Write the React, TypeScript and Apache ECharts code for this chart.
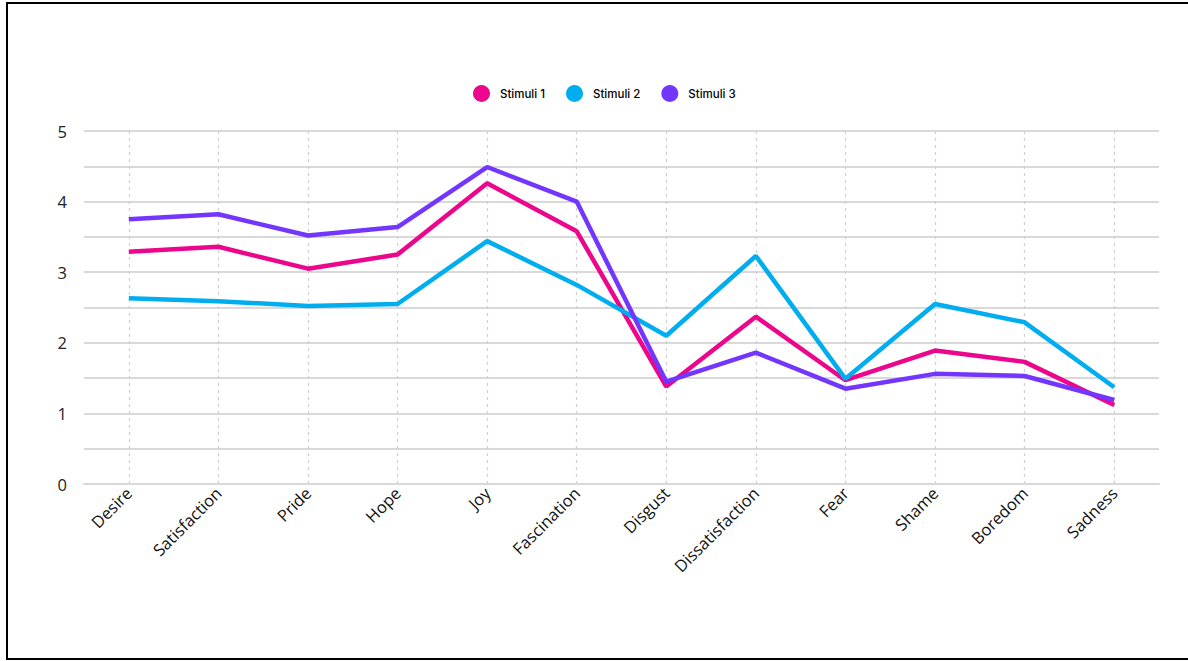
import React, { useEffect, useRef } from "react";
import * as echarts from "echarts";

const categories = [
  "Desire",
  "Satisfaction",
  "Pride",
  "Hope",
  "Joy",
  "Fascination",
  "Disgust",
  "Dissatisfaction",
  "Fear",
  "Shame",
  "Boredom",
  "Sadness",
];

const stimuli1 = [3.29, 3.36, 3.05, 3.25, 4.26, 3.58, 1.38, 2.37, 1.47, 1.89, 1.73, 1.12];
const stimuli2 = [2.63, 2.59, 2.52, 2.55, 3.44, 2.82, 2.1, 3.23, 1.49, 2.55, 2.29, 1.37];
const stimuli3 = [3.75, 3.82, 3.52, 3.64, 4.49, 4.0, 1.45, 1.86, 1.35, 1.56, 1.53, 1.19];

const seriesNames = ["Stimuli 1", "Stimuli 2", "Stimuli 3"];
const seriesColors = ["#EB068B", "#00AEEF", "#7236FF"];

export default function App() {
  const ref = useRef<HTMLDivElement>(null);

  useEffect(() => {
    if (!ref.current) return;
    const chart = echarts.init(ref.current, undefined, { renderer: "svg" });
    const values = [stimuli1, stimuli2, stimuli3];
    chart.setOption({
      animation: false,
      color: seriesColors,
      legend: {
        left: 468,
        top: 80,
        icon: "circle",
        itemWidth: 17,
        itemHeight: 17,
        itemGap: 21,
        textStyle: {
          fontFamily: "Inter",
          fontSize: 11.5,
          fontWeight: 500,
          color: "#000",
          padding: [0, 0, 0, 5],
        },
        data: seriesNames,
      },
      grid: { left: 84, right: 29, top: 131, bottom: 177, containLabel: false },
      xAxis: {
        type: "category",
        data: categories,
        boundaryGap: true,
        axisLine: { show: true, lineStyle: { color: "#d9d9d9", width: 2 } },
        axisTick: { show: false },
        axisLabel: {
          rotate: 45,
          margin: 6,
          fontFamily: "Open Sans",
          fontSize: 16.5,
          color: "#111",
        },
        splitLine: {
          show: true,
          alignWithLabel: true,
          lineStyle: { color: "#cfcfcf", type: [3, 4], width: 1.2 },
        },
      },
      yAxis: {
        type: "value",
        min: 0,
        max: 5,
        interval: 0.5,
        axisLine: { show: false },
        axisTick: { show: false },
        axisLabel: {
          margin: 17,
          fontFamily: "Open Sans",
          fontSize: 16.5,
          color: "#222",
          formatter: (v: number) => (Number.isInteger(v) ? String(v) : ""),
        },
        splitLine: { show: true, lineStyle: { color: "#d9d9d9", width: 2 } },
      },
      series: seriesNames.map((name, i) => ({
        name,
        type: "line",
        data: values[i],
        showSymbol: false,
        symbol: "none",
        lineStyle: { width: 4.5, color: seriesColors[i] },
        itemStyle: { color: seriesColors[i] },
      })),
    });
    return () => chart.dispose();
  }, []);

  return (
    <div style={{ position: "fixed", left: 0, top: 0, width: 1188, height: 661, background: "#fff" }}>
      <div
        style={{
          position: "absolute",
          left: 6,
          top: 2,
          width: 1200,
          height: 654,
          borderLeft: "2px solid #000",
          borderTop: "2px solid #000",
          borderBottom: "2px solid #000",
          boxSizing: "content-box",
        }}
      />
      <div ref={ref} style={{ position: "absolute", left: 0, top: 0, width: 1188, height: 661 }} />
    </div>
  );
}
